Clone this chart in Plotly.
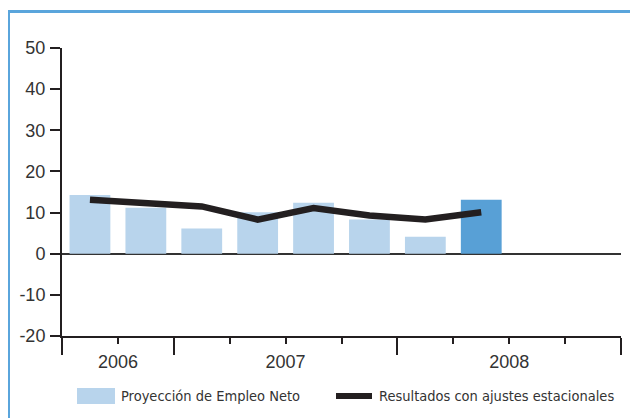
import plotly.graph_objects as go

# ---- data ----
quarters = ["2006 T3", "2006 T4", "2007 T1", "2007 T2", "2007 T3", "2007 T4", "2008 T1", "2008 T2"]
proyeccion = [14.3, 11.2, 6.1, 10.1, 12.4, 8.3, 4.1, 13.1]
ajustados = [13.1, 12.4, 11.5, 8.3, 11.1, 9.3, 8.3, 10.1]
year_labels = ["2006", "2007", "2008"]
year_centers = [1, 4, 8]          # in quarter-slot units
year_bounds = [0, 2, 6, 10]
y_ticks = [-20, -10, 0, 10, 20, 30, 40, 50]
y_tick_labels = ["-20", "-10", "0", "10", "20", "30", "40", "50"]
legend_names = ["Proyección de Empleo Neto", "Resultados con ajustes estacionales"]

OFF = 8  # page body margin offset
W, H = 638 - OFF, 418 - OFF
L, T = 62 - OFF, 48 - OFF
pw, ph = 559, 288
R, B = W - L - pw, H - T - ph

LIGHT = "#b8d4ec"
DARK = "#58a0d6"
LINE = "#231f20"
FRAME = "#5aa5dc"
AX = "#231f20"

xpos = [i + 0.5 for i in range(len(proyeccion))]
bar_colors = [LIGHT] * (len(proyeccion) - 1) + [DARK]

# helpers: reference-picture pixel -> paper coords
def px_x(p):
    return (p - 62) / pw

def px_y(p):
    return (336 - p) / ph

fig = go.Figure()
fig.add_trace(go.Bar(x=xpos, y=proyeccion, width=0.73, marker=dict(color=bar_colors, line=dict(width=0)),
                     name=legend_names[0], showlegend=False, hoverinfo="y"))
fig.add_trace(go.Scatter(x=xpos, y=ajustados, mode="lines", xaxis="x2",
                         line=dict(color=LINE, width=6.5), name=legend_names[1], showlegend=False))

tickfont = dict(family="Liberation Sans, Arial, sans-serif", size=18, color="#333333")

fig.update_layout(
    width=W, height=H,
    margin=dict(l=L, r=R, t=T, b=B, pad=0),
    paper_bgcolor="white", plot_bgcolor="white",
    showlegend=False,
    xaxis=dict(range=[0, 10], tickmode="array", tickvals=year_bounds, showticklabels=False,
               ticks="outside", ticklen=17, tickwidth=2, tickcolor=AX,
               minor=dict(tickmode="array", tickvals=[v for v in range(1, 10) if v not in year_bounds],
                          ticks="outside", ticklen=6, tickwidth=2, tickcolor=AX, showgrid=False),
               showline=True, linecolor=AX, linewidth=2, showgrid=False, zeroline=False, fixedrange=True),
    xaxis2=dict(range=[0, 10], overlaying="x", anchor="y", side="bottom", tickmode="array",
                tickvals=year_centers, ticktext=year_labels, ticks="", showline=False, showgrid=False,
                zeroline=False, tickfont=tickfont, ticklabelstandoff=13),
    yaxis=dict(range=[-20, 50], tickmode="array", tickvals=y_ticks, ticktext=y_tick_labels,
               ticks="outside", ticklen=10,
               tickwidth=2, tickcolor=AX, showline=True, linecolor=AX, linewidth=2, showgrid=False,
               zeroline=True, zerolinecolor="#333333", zerolinewidth=1.5, tickfont=tickfont,
               ticklabelstandoff=1),
)

# frame (top and left edges of the panel)
fig.add_shape(type="line", xref="paper", yref="paper", x0=px_x(8.5), x1=px_x(650), y0=px_y(11.5), y1=px_y(11.5),
              line=dict(color=FRAME, width=3))
fig.add_shape(type="line", xref="paper", yref="paper", x0=px_x(8.5), x1=px_x(8.5), y0=px_y(10), y1=px_y(430),
              line=dict(color=FRAME, width=3))

# legend
legfont = dict(family="DejaVu Sans Condensed, Liberation Sans, sans-serif", size=14.5, color="#333333")
fig.add_shape(type="rect", xref="paper", yref="paper", x0=px_x(77), x1=px_x(115), y0=px_y(388), y1=px_y(404),
              fillcolor=LIGHT, line=dict(width=0))
fig.add_annotation(xref="paper", yref="paper", x=px_x(119), y=px_y(396), text=legend_names[0], showarrow=False,
                   xanchor="left", yanchor="middle", font=legfont)
fig.add_shape(type="line", xref="paper", yref="paper", x0=px_x(336), x1=px_x(372), y0=px_y(396), y1=px_y(396),
              line=dict(color=LINE, width=6))
fig.add_annotation(xref="paper", yref="paper", x=px_x(377), y=px_y(396), text=legend_names[1], showarrow=False,
                   xanchor="left", yanchor="middle", font=legfont)

fig.write_html("out.html")
